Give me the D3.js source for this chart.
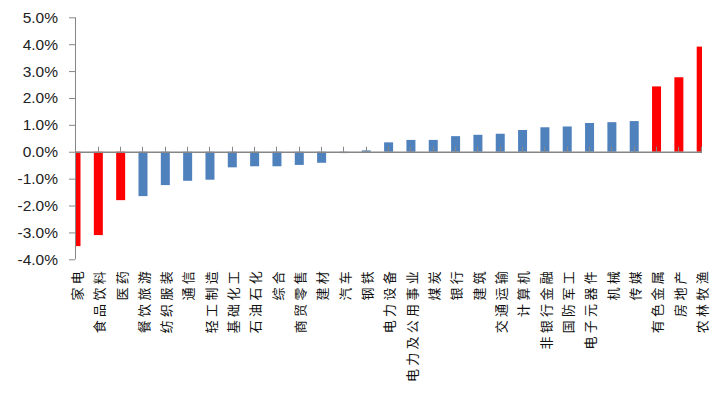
<!DOCTYPE html>
<html>
<head>
<meta charset="utf-8">
<script src="https://cdn.jsdelivr.net/npm/d3@7"></script>
<style>
  body { margin: 0; background: #fff; }
</style>
</head>
<body>
<svg id="chart"></svg>
<script>
// Industries (sorted by return)
const categories = ["家电", "食品饮料", "医药", "餐饮旅游", "纺织服装", "通信", "轻工制造", "基础化工",
  "石油石化", "综合", "商贸零售", "建材", "汽车", "钢铁", "电力设备", "电力及公用事业", "煤炭", "银行",
  "建筑", "交通运输", "计算机", "非银行金融", "国防军工", "电子元器件", "机械", "传媒", "有色金属",
  "房地产", "农林牧渔"];

// Return, %
const values = [-3.51, -3.10, -1.80, -1.65, -1.24, -1.08, -1.04, -0.58,
  -0.54, -0.54, -0.49, -0.41, -0.05, 0.05, 0.35, 0.44, 0.44, 0.58,
  0.63, 0.67, 0.81, 0.91, 0.94, 1.07, 1.10, 1.14, 2.43,
  2.77, 3.91];

// Bars drawn in red
const highlighted = ["家电", "食品饮料", "医药", "有色金属", "房地产", "农林牧渔"];

const yTicks = [-4, -3, -2, -1, 0, 1, 2, 3, 4, 5];

const data = categories.map((c, i) => ({ name: c, value: values[i] }));

const width = 710, height = 396;
const left = 75, right = 702;

const svg = d3.select("#chart")
  .attr("width", width)
  .attr("height", height);

// X scale (one point per industry)
const x = d3.scalePoint()
  .domain(categories)
  .range([75.4, 700.6]);

// Y scale (%)
const y = d3.scaleLinear()
  .domain([-4, 5])
  .range([259.3, 17.3]);

const barWidth = 9;

// clip bars to plot area like Excel does
svg.append("clipPath")
  .attr("id", "plot-clip")
  .append("rect")
  .attr("x", left)
  .attr("y", 0)
  .attr("width", right - left)
  .attr("height", height);

svg.append("g")
  .attr("clip-path", "url(#plot-clip)")
  .selectAll("rect")
  .data(data)
  .enter().append("rect")
  .attr("x", d => x(d.name) + 0.6 - barWidth / 2)
  .attr("y", d => y(Math.max(0, d.value)))
  .attr("width", barWidth)
  .attr("height", d => Math.abs(y(d.value) - y(0)))
  .attr("fill", d => highlighted.includes(d.name) ? "#FF0000" : "#4F81BD");

// Y axis
const yAxis = svg.append("g")
  .attr("transform", "translate(" + left + ",0)")
  .call(d3.axisLeft(y)
    .tickValues(yTicks)
    .tickSize(6)
    .tickPadding(11)
    .tickFormat(d => d.toFixed(1) + "%"));

yAxis.select(".domain").attr("stroke", "#868686").attr("d", "M0.5," + y(5) + "V" + y(-4));
yAxis.selectAll(".tick line").attr("stroke", "#868686");
yAxis.selectAll(".tick text")
  .attr("fill", "#222")
  .style("font-family", "'Liberation Sans', Arial, sans-serif")
  .style("font-size", "15.5px");

// X axis along zero line, ticks pointing up
const xAxis = svg.append("g")
  .attr("transform", "translate(0," + y(0) + ")");

xAxis.append("line")
  .attr("x1", left)
  .attr("x2", right)
  .attr("y1", 0.5)
  .attr("y2", 0.5)
  .attr("stroke", "#868686")
  .attr("stroke-width", 1.5);

xAxis.selectAll(".xtick")
  .data(categories)
  .enter().append("line")
  .attr("class", "xtick")
  .attr("x1", d => Math.round(x(d)) + 0.5)
  .attr("x2", d => Math.round(x(d)) + 0.5)
  .attr("y1", -5)
  .attr("y2", 0)
  .attr("stroke", "#868686");

// Category labels, vertical, ending near the bottom of the plot
svg.selectAll(".cat-label")
  .data(categories)
  .enter().append("text")
  .attr("class", "cat-label")
  .attr("transform", d => "translate(" + (x(d) + 1.5) + ",268) rotate(-90)")
  .attr("dy", "0.38em")
  .attr("text-anchor", "end")
  .style("font-family", "'Noto Sans CJK SC', sans-serif")
  .style("font-size", "13px")
  .style("letter-spacing", "3.3px")
  .attr("fill", "#111")
  .text(d => d);
</script>
</body>
</html>
